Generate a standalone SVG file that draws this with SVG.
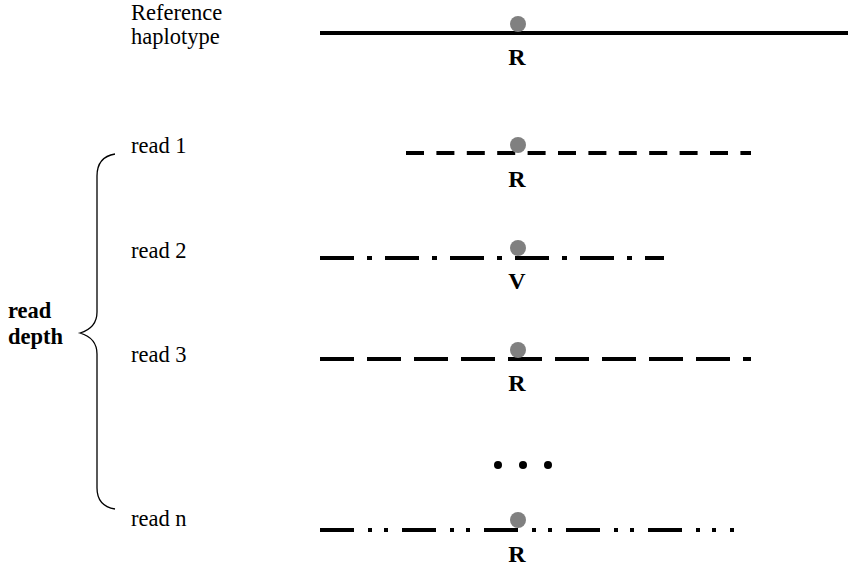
<svg xmlns="http://www.w3.org/2000/svg" width="848" height="568" viewBox="0 0 848 568">
<style>
.t{font-family:"Liberation Serif","Times New Roman",serif;font-size:22.5px;fill:#000}
.d{font-family:"Liberation Serif","Times New Roman",serif;font-size:22.5px;font-weight:bold;fill:#000}
.b{font-family:"Liberation Serif","Times New Roman",serif;font-size:24px;font-weight:bold;fill:#000}
.ln{stroke:#000;stroke-width:4;fill:none}
.snp{fill:#808080}
</style>
<rect width="848" height="568" fill="#fff"/>
<g id="labels">
<text class="t" x="131" y="20">Reference</text>
<text class="t" x="131" y="44">haplotype</text>
<text class="t" x="131" y="153">read 1</text>
<text class="t" x="131" y="258">read 2</text>
<text class="t" x="131" y="362">read 3</text>
<text class="t" x="131" y="526">read n</text>
<text class="d" x="8" y="318">read</text>
<text class="d" x="8" y="344">depth</text>
</g>
<g id="brace">
<path d="M115,154 C103,156 97,164 97,176 L97,312 C97,324 90,330 80,333 C90,336 97,342 97,354 L97,488 C97,500 103,507 115,509" stroke="#000" stroke-width="1.3" fill="none"/>
</g>
<g id="reference">
<line class="ln" x1="320" y1="33" x2="848" y2="33"/>
<circle class="snp" cx="518" cy="24" r="8"/>
<text class="b" x="517" y="65" text-anchor="middle">R</text>
</g>
<g id="read1">
<line class="ln" x1="406" y1="153" x2="751" y2="153" stroke-dasharray="18 12.4"/>
<circle class="snp" cx="518" cy="145" r="8"/>
<text class="b" x="517" y="187" text-anchor="middle">R</text>
</g>
<g id="read2">
<line class="ln" x1="320" y1="258" x2="664" y2="258" stroke-dasharray="34 13 5 13"/>
<circle class="snp" cx="518" cy="248" r="8"/>
<text class="b" x="517" y="289" text-anchor="middle">V</text>
</g>
<g id="read3">
<line class="ln" x1="320" y1="359" x2="751" y2="359" stroke-dasharray="34 13"/>
<circle class="snp" cx="518" cy="350" r="8"/>
<text class="b" x="517" y="391" text-anchor="middle">R</text>
</g>
<g id="ellipsis">
<circle cx="498" cy="465" r="4"/>
<circle cx="523" cy="465" r="4"/>
<circle cx="548" cy="465" r="4"/>
</g>
<g id="readn">
<line class="ln" x1="320" y1="530" x2="734" y2="530" stroke-dasharray="34 14 4 12 4 14"/>
<circle class="snp" cx="518" cy="520" r="8"/>
<text class="b" x="517" y="562" text-anchor="middle">R</text>
</g>
</svg>
